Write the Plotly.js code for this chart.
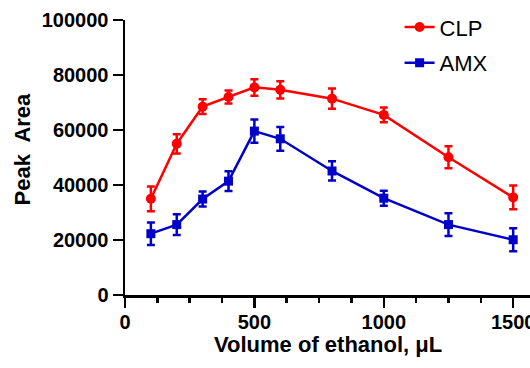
<!DOCTYPE html>
<html>
<head>
<meta charset="utf-8">
<script src="https://cdn.plot.ly/plotly-3.0.1.min.js"></script>
<style>html,body{margin:0;padding:0;background:#fff;}#chart{width:530px;height:368px;}</style>
</head>
<body>
<div id="chart"></div>
<script>
const volumes = [100, 200, 300, 400, 500, 600, 800, 1000, 1250, 1500];
const clpArea = [35000, 55000, 68500, 72000, 75500, 74600, 71400, 65500, 50100, 35500];
const clpErr  = [4500, 3500, 2700, 2400, 3000, 3100, 3700, 2700, 4000, 4300];
const amxArea = [22300, 25600, 34900, 41400, 59600, 56800, 45100, 35200, 25600, 20100];
const amxErr  = [4100, 3800, 2700, 3600, 4200, 4300, 3500, 2700, 4100, 4200];
const seriesNames = ['CLP', 'AMX'];
const xTitle = 'Volume of ethanol, μL';
const yTitle = 'Peak  Area';

const FONT = 'Arial, "Liberation Sans", sans-serif';

const traces = [
  {
    x: volumes, y: clpArea, name: seriesNames[0], type: 'scatter', mode: 'lines+markers',
    legendgroup: 'a',
    line: {color: '#FF0000', width: 2.5},
    marker: {symbol: 'circle', size: 10, color: '#FF0000'},
    error_y: {type: 'data', array: clpErr, visible: true, color: '#FF0000', thickness: 2.5, width: 4}
  },
  {
    x: volumes, y: amxArea, name: seriesNames[1], type: 'scatter', mode: 'lines+markers',
    legendgroup: 'b',
    line: {color: '#0000C8', width: 2.5},
    marker: {symbol: 'square', size: 9, color: '#0000C8'},
    error_y: {type: 'data', array: amxErr, visible: true, color: '#0000C8', thickness: 2.5, width: 4}
  }
];

const layout = {
  width: 530, height: 368,
  margin: {l: 125, r: 0, t: 20, b: 73},
  paper_bgcolor: '#fff', plot_bgcolor: '#fff',
  font: {family: FONT, color: '#000'},
  showlegend: true,
  legend: {
    x: 0.678, y: 1.05, xanchor: 'left', yanchor: 'top',
    font: {family: FONT, size: 22, color: '#000'},
    bgcolor: 'rgba(0,0,0,0)', traceorder: 'grouped', tracegroupgap: 4,
    itemwidth: 30
  },
  xaxis: {
    range: [0, 1565], autorange: false,
    showgrid: false, zeroline: false,
    showline: true, linecolor: '#000', linewidth: 2.5,
    ticks: 'outside', ticklen: 10, tickwidth: 2.5, tickcolor: '#000',
    tickmode: 'array', tickvals: [0, 500, 1000, 1500], ticktext: ['0', '500', '1000', '1500'],
    ticklabeloverflow: 'allow', ticklabelstandoff: -3,
    minor: {dtick: 125, tick0: 0, ticks: 'outside', ticklen: 5, tickwidth: 2.5, tickcolor: '#000', showgrid: false},
    tickfont: {family: FONT, size: 20, color: '#000', weight: 'bold'}
  },
  yaxis: {
    range: [0, 100000], autorange: false,
    showgrid: false, zeroline: false,
    showline: true, linecolor: '#000', linewidth: 2.5,
    ticks: 'outside', ticklen: 10, tickwidth: 2.5, tickcolor: '#000',
    tickvals: [0, 20000, 40000, 60000, 80000, 100000],
    ticktext: ['0', '20000', '40000', '60000', '80000', '100000'],
    tickfont: {family: FONT, size: 20, color: '#000', weight: 'bold'}
  },
  annotations: [
    {text: '<b>' + xTitle + '</b>', xref: 'paper', yref: 'paper', x: 0.5, y: -0.18,
     xanchor: 'center', yanchor: 'middle', showarrow: false,
     font: {family: FONT, size: 22, color: '#000'}},
    {text: '<b>' + yTitle + '</b>', xref: 'paper', yref: 'paper', x: -0.254, y: 0.53,
     xanchor: 'center', yanchor: 'middle', showarrow: false, textangle: -90,
     font: {family: FONT, size: 22, color: '#000'}}
  ]
};

Plotly.newPlot('chart', traces, layout, {displayModeBar: false, staticPlot: true});
</script>
</body>
</html>
